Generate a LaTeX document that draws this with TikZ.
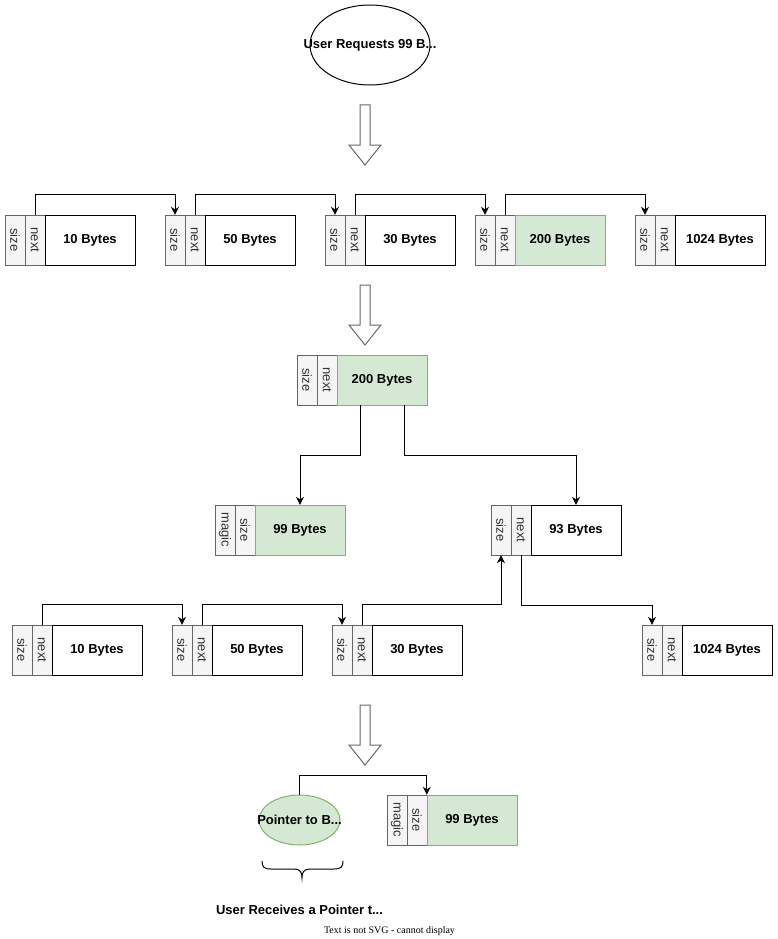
\documentclass[tikz,border=0pt]{standalone}
\usepackage{fontspec}
\setmainfont{Liberation Sans}
\newfontfamily\notefont{Liberation Serif}
\usepackage{graphicx}
\usetikzlibrary{arrows.meta,shapes.geometric}

\definecolor{cellfill}{HTML}{F5F5F5}
\definecolor{cellline}{HTML}{666666}
\definecolor{celltext}{HTML}{333333}
\definecolor{usedfill}{HTML}{D5E8D4}
\definecolor{usedline}{HTML}{82B366}

\begin{document}
\begin{tikzpicture}[x=1pt,y=-1pt,
        cell/.style={draw=cellline,fill=cellfill,text=celltext,minimum width=20,minimum height=50,inner sep=0pt,font=\fontsize{13}{13}\selectfont},
        bytes/.style={draw,minimum width=90,minimum height=50,inner sep=0pt,font=\bfseries\fontsize{13}{15}\selectfont},
        link/.style={line width=1pt,-{Stealth[length=8pt,width=8pt]}},
        bigarrow/.style={draw=cellline,fill=white,line width=1pt},
        label/.style={inner sep=0pt,font=\bfseries\fontsize{13}{15}\selectfont}]
        \useasboundingbox (0,0) rectangle (778,939);

        % request
        \node[ellipse,draw,line width=1pt,minimum width=120,minimum height=80,inner sep=0pt] (req) at (370,45) {};
        \node[label] (reqtext) at (req) {User Requests 99 B...};

        % hollow arrows between the steps
        \foreach \t in {105,285,705}
            \draw[bigarrow] (360,\t) -- ++(10,0) -- ++(0,40) -- ++(11,0) -- ++(-16,20) -- ++(-16,-20) -- ++(11,0) -- cycle;

        % free chunks
        \foreach \n/\x/\y/\b/\f/\d in {a1/5/215/10/white/black, a2/165/215/50/white/black,
                a3/325/215/30/white/black, a4/475/215/200/usedfill/usedline,
                a5/635/215/1024/white/black, m/297/355/200/usedfill/usedline,
                b/491/505/93/white/black, c1/12/625/10/white/black,
                c2/172/625/50/white/black, c3/332/625/30/white/black,
                c4/642/625/1024/white/black}{
            \node[cell] (\n-size) at (\x+10,\y+25) {\rotatebox{-90}{size}};
            \node[cell] (\n-next) at (\x+30,\y+25) {\rotatebox{-90}{next}};
            \node[bytes,fill=\f,draw=\d] (\n-data) at (\x+85,\y+25) {\b\ Bytes};
        }

        % allocated chunks
        \foreach \n/\x/\y in {p/215/505, q/387/795}{
            \node[cell] (\n-magic) at (\x+10,\y+25) {\rotatebox{-90}{magic}};
            \node[cell] (\n-size) at (\x+30,\y+25) {\rotatebox{-90}{size}};
            \node[bytes,fill=usedfill,draw=usedline] (\n-data) at (\x+85,\y+25) {99 Bytes};
        }

        % free list links
        \foreach \i/\j in {a1/a2,a2/a3,a3/a4,a4/a5,c1/c2,c2/c3}
            \draw[link] (\i-next.north) -- ++(0,-20) -| (\j-size.north);
        \draw[link] (c3-next.north) -- ++(0,-20) -| (b-size.south);
        \draw[link] (b-next.south) -- ++(0,50) -| (c4-size.north);

        % split
        \draw[link] ([xshift=-22pt]m-data.south) -- ++(0,50) -| (p-data.north);
        \draw[link] ([xshift=22pt]m-data.south) -- ++(0,50) -| (b-data.north);

        % result
        \node[ellipse,draw=usedline,fill=usedfill,line width=1pt,minimum width=81,minimum height=50,inner sep=0pt] (ptr) at (299.5,820) {};
        \node[label] (ptrtext) at (ptr) {Pointer to B...};
        \draw[link] (ptr.north) -- ++(0,-19) -| (q-data.north west);

        \draw[line width=1pt] (262,861) .. controls (262,867) and (264,869) .. (271,869) -- (294,869)
            .. controls (300,869) and (302,872) .. (302,878)
            .. controls (302,872) and (304,869) .. (310,869) -- (334,869)
            .. controls (341,869) and (343,867) .. (343,861);
        \node[label] (recv) at (299.5,910) {User Receives a Pointer t...};
        \node[inner sep=0pt,font=\notefont\fontsize{10}{12}\selectfont] (note) at (389.5,931) {Text is not SVG - cannot display};
\end{tikzpicture}
\end{document}
